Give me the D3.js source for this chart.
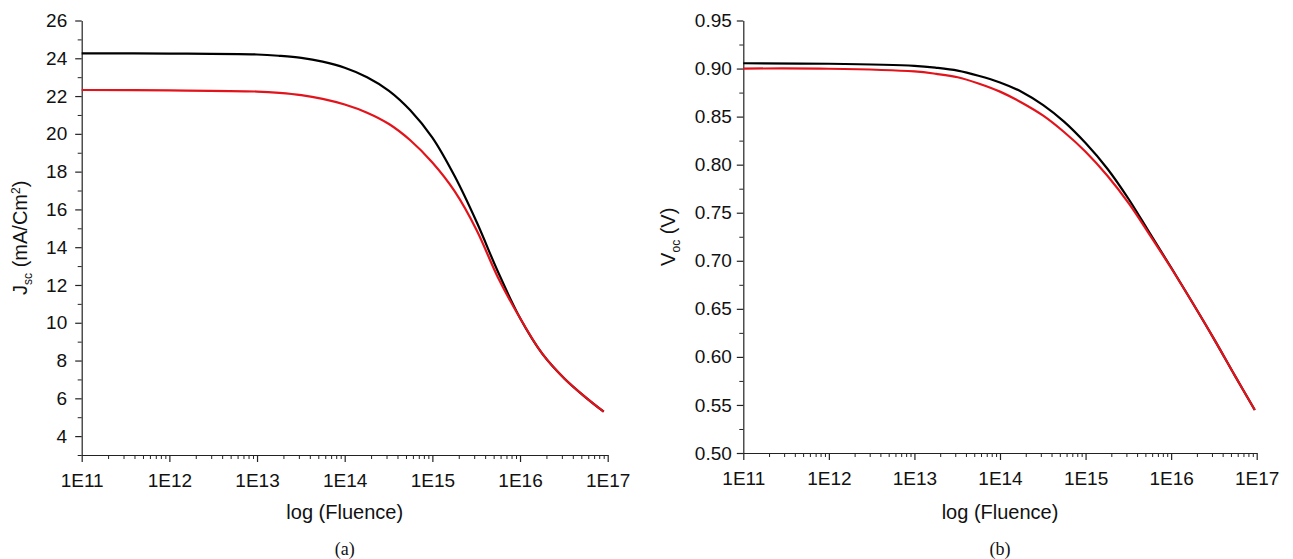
<!DOCTYPE html>
<html>
<head>
<meta charset="utf-8">
<script src="https://cdn.jsdelivr.net/npm/d3@7"></script>
<style>
  body { margin: 0; background: #fff; }
  svg { display: block; }
  .tick text { font-family: "Liberation Sans", Arial, sans-serif; font-size: 19px; fill: #111; }
  .axis-title { font-family: "Liberation Sans", Arial, sans-serif; font-size: 20px; fill: #111; }
  .panel-tag { font-family: "Liberation Serif", "Times New Roman", serif; font-size: 18px; fill: #111; }
</style>
</head>
<body>
<svg id="chart" width="1293" height="559"></svg>
<script>
// fluence values (x) for the curves of each panel
const fluenceA = [1e11, 1e12, 1e13, 1.8e13, 3.2e13, 5.6e13, 1e14, 1.8e14, 3.2e14, 5.6e14, 1e15, 1.8e15, 3.2e15, 5.6e15, 1e16, 1.8e16, 3.2e16, 5.6e16, 9e16];
const fluenceB = [1e11, 1e12, 1e13, 1.8e13, 3.2e13, 5.6e13, 1e14, 1.8e14, 3.2e14, 5.6e14, 1e15, 1.8e15, 3.2e15, 5.6e15, 1e16, 1.8e16, 3.2e16, 5.6e16, 9.5e16];

// panel (a) : Jsc in mA/cm2
const jscBlack = [24.26, 24.25, 24.20, 24.13, 24.02, 23.82, 23.50, 23.00, 22.28, 21.25, 19.80, 17.75, 15.33, 12.70, 10.25, 8.35, 7.05, 6.05, 5.29];
const jscRed   = [22.32, 22.30, 22.24, 22.17, 22.05, 21.85, 21.55, 21.12, 20.52, 19.66, 18.48, 16.95, 14.90, 12.40, 10.25, 8.35, 7.05, 6.05, 5.29];

// panel (b) : Voc in V
const vocBlack = [0.9055, 0.9050, 0.9028, 0.9008, 0.8978, 0.8925, 0.8855, 0.8757, 0.8620, 0.8448, 0.8225, 0.7958, 0.7640, 0.7290, 0.6930, 0.6555, 0.6180, 0.5800, 0.5448];
const vocRed   = [0.9000, 0.8998, 0.8970, 0.8945, 0.8910, 0.8845, 0.8760, 0.8645, 0.8510, 0.8340, 0.8135, 0.7885, 0.7597, 0.7272, 0.6925, 0.6555, 0.6180, 0.5800, 0.5448];

const xTickLabels = ['1E11', '1E12', '1E13', '1E14', '1E15', '1E16', '1E17'];
const jscTicks = [4, 6, 8, 10, 12, 14, 16, 18, 20, 22, 24, 26];
const vocTicks = [0.50, 0.55, 0.60, 0.65, 0.70, 0.75, 0.80, 0.85, 0.90, 0.95];

const svg = d3.select('#chart');

function drawPanel(cfg) {
  const g = svg.append('g');

  const x = d3.scaleLog().domain([1e11, 1e17]).range([cfg.left, cfg.right]);
  const y = d3.scaleLinear().domain(cfg.yDomain).range([cfg.bottom, cfg.top]);

  // minor x ticks (2..9 in every decade)
  const minorX = [];
  for (let e = 11; e < 17; e++) {
    for (let m = 2; m <= 9; m++) minorX.push(m * Math.pow(10, e));
  }
  g.append('g')
    .attr('transform', `translate(0,${cfg.bottom})`)
    .call(d3.axisBottom(x).tickValues(minorX).tickSize(4).tickFormat(''))
    .call(a => a.select('.domain').remove())
    .selectAll('line').attr('stroke', '#222');

  // minor y ticks
  g.append('g')
    .attr('transform', `translate(${cfg.left},0)`)
    .call(d3.axisLeft(y).tickValues(cfg.yMinor).tickSize(4).tickFormat(''))
    .call(a => a.select('.domain').remove())
    .selectAll('line').attr('stroke', '#222');

  // major x axis
  const xAxis = g.append('g')
    .attr('transform', `translate(0,${cfg.bottom})`)
    .call(d3.axisBottom(x)
      .tickValues(xTickLabels.map(Number))
      .tickFormat((d, i) => xTickLabels[i])
      .tickSize(7).tickSizeOuter(0).tickPadding(12));
  xAxis.select('.domain').attr('stroke', '#222').attr('stroke-width', 1.2);
  xAxis.selectAll('.tick line').attr('stroke', '#222').attr('stroke-width', 1.2);

  // major y axis
  const yAxis = g.append('g')
    .attr('transform', `translate(${cfg.left},0)`)
    .call(d3.axisLeft(y)
      .tickValues(cfg.yTicks)
      .tickFormat(cfg.yFormat)
      .tickSize(6.5).tickSizeOuter(0).tickPadding(cfg.yPad));
  yAxis.select('.domain').attr('stroke', '#222').attr('stroke-width', 1.2);
  yAxis.selectAll('.tick line').attr('stroke', '#222').attr('stroke-width', 1.2);

  // curves
  const line = d3.line()
    .x(d => x(d[0]))
    .y(d => y(d[1]))
    .curve(d3.curveCatmullRom.alpha(0.5));

  cfg.series.forEach(s => {
    g.append('path')
      .datum(cfg.fluence.map((f, i) => [f, s.values[i]]))
      .attr('fill', 'none')
      .attr('stroke', s.color)
      .attr('stroke-width', 2.2)
      .attr('d', line);
  });

  const midX = (cfg.left + cfg.right) / 2;

  // x title
  g.append('text')
    .attr('class', 'axis-title')
    .attr('x', midX)
    .attr('y', 519)
    .attr('text-anchor', 'middle')
    .text('log (Fluence)');

  // y title (rotated, with sub/superscripts)
  const yt = g.append('text')
    .attr('class', 'axis-title')
    .attr('text-anchor', 'middle')
    .attr('transform', `translate(${cfg.yTitleX},${(cfg.top + cfg.bottom) / 2}) rotate(-90)`);
  cfg.yTitle(yt);

  // panel tag
  g.append('text')
    .attr('class', 'panel-tag')
    .attr('x', midX)
    .attr('y', 555)
    .attr('text-anchor', 'middle')
    .text(cfg.tag);
}

drawPanel({
  left: 81.7, right: 607.7, top: 20.5, bottom: 455,
  yDomain: [3, 26],
  yTicks: jscTicks,
  yMinor: [3, 5, 7, 9, 11, 13, 15, 17, 19, 21, 23, 25],
  yFormat: d3.format('d'),
  yPad: 8,
  yTitleX: 27,
  fluence: fluenceA,
  series: [
    { values: jscBlack, color: '#000000' },
    { values: jscRed, color: '#e3131b' }
  ],
  yTitle: t => {
    t.append('tspan').text('J');
    t.append('tspan').attr('font-size', '12px').attr('dy', 5).text('sc');
    t.append('tspan').attr('dy', -5).text(' (mA/Cm');
    t.append('tspan').attr('font-size', '12px').attr('dy', -7).text('2');
    t.append('tspan').attr('dy', 7).text(')');
  },
  tag: '(a)'
});

drawPanel({
  left: 743.3, right: 1256.7, top: 20.5, bottom: 453,
  yDomain: [0.5, 0.95],
  yTicks: vocTicks,
  yMinor: [0.525, 0.575, 0.625, 0.675, 0.725, 0.775, 0.825, 0.875, 0.925],
  yFormat: d3.format('.2f'),
  yPad: 5,
  yTitleX: 675,
  fluence: fluenceB,
  series: [
    { values: vocBlack, color: '#000000' },
    { values: vocRed, color: '#e3131b' }
  ],
  yTitle: t => {
    t.append('tspan').text('V');
    t.append('tspan').attr('font-size', '12px').attr('dy', 5).text('oc');
    t.append('tspan').attr('dy', -5).text(' (V)');
  },
  tag: '(b)'
});
</script>
</body>
</html>
